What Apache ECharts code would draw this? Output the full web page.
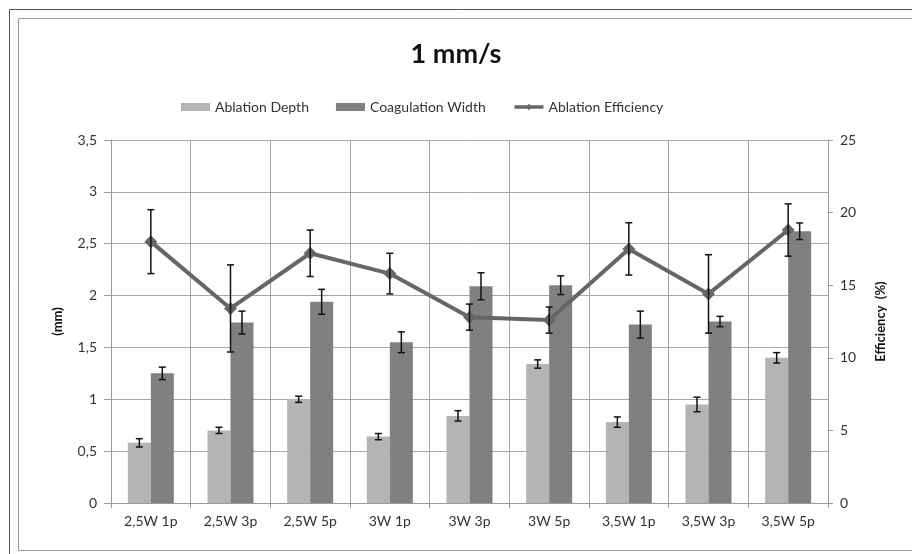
<!DOCTYPE html>
<html>
<head>
<meta charset="utf-8">
<script src="https://cdn.jsdelivr.net/npm/echarts@6/dist/echarts.min.js"></script>
<style>
  html, body { margin: 0; padding: 0; background: #fff; }
  #chart { width: 912px; height: 554px; }
</style>
</head>
<body>
<div id="chart"></div>
<script>
// categories and values
var categories = ['2,5W 1p', '2,5W 3p', '2,5W 5p', '3W 1p', '3W 3p', '3W 5p', '3,5W 1p', '3,5W 3p', '3,5W 5p'];
var depth = [0.58, 0.70, 1.00, 0.64, 0.84, 1.34, 0.78, 0.95, 1.40];
var depthErr = [0.04, 0.03, 0.03, 0.03, 0.05, 0.04, 0.05, 0.07, 0.05];
var width = [1.25, 1.74, 1.94, 1.55, 2.09, 2.10, 1.72, 1.75, 2.62];
var widthErr = [0.06, 0.11, 0.12, 0.10, 0.13, 0.09, 0.13, 0.05, 0.08];
var efficiency = [18.0, 13.4, 17.2, 15.8, 12.8, 12.6, 17.5, 14.4, 18.8];
var efficiencyErr = [2.2, 3.0, 1.6, 1.4, 0.9, 0.9, 1.8, 2.7, 1.8];

var BAR_W = 23;
var font = 'Lato, "Open Sans", sans-serif';

function errData(vals, errs) {
    return vals.map(function (v, i) { return [i, v - errs[i], v + errs[i]]; });
}

// error bar drawing, dx = offset from category centre
function errRender(dx) {
    return function (params, api) {
        var lo = api.coord([api.value(0), api.value(1)]);
        var hi = api.coord([api.value(0), api.value(2)]);
        var x = lo[0] + dx;
        var c = 3.5;
        var st = { stroke: '#111', lineWidth: 1.5 };
        return {
            type: 'group',
            children: [
                { type: 'line', shape: { x1: x, y1: hi[1], x2: x, y2: lo[1] }, style: st },
                { type: 'line', shape: { x1: x - c, y1: hi[1], x2: x + c, y2: hi[1] }, style: st },
                { type: 'line', shape: { x1: x - c, y1: lo[1], x2: x + c, y2: lo[1] }, style: st }
            ]
        };
    };
}

var option = {
    backgroundColor: '#fff',
    animation: false,
    title: {
        text: '1 mm/s',
        left: 'center',
        top: 36,
        textStyle: { fontFamily: font, fontSize: 27, fontWeight: 'bold', color: '#111' }
    },
    legend: {
        top: 95,
        left: 176,
        itemWidth: 29,
        itemHeight: 8,
        itemGap: 27,
        textStyle: { fontFamily: font, fontSize: 14, color: '#333' },
        data: [
            { name: 'Ablation Depth', icon: 'rect' },
            { name: 'Coagulation Width', icon: 'rect' },
            { name: 'Ablation Efficiency', lineStyle: { width: 3.5 } }
        ]
    },
    grid: { left: 111, right: 84, top: 140, bottom: 51 },
    xAxis: {
        type: 'category',
        data: categories,
        axisLine: { lineStyle: { color: '#9a9a9a' } },
        axisTick: { show: true, length: 5, lineStyle: { color: '#9a9a9a' } },
        axisLabel: { fontFamily: font, fontSize: 14, color: '#333', margin: 11 },
        splitLine: { show: true, lineStyle: { color: '#a6a6a6', width: 1 } }
    },
    yAxis: [
        {
            type: 'value',
            min: 0, max: 3.5, interval: 0.5,
            name: '(mm)',
            nameLocation: 'middle',
            nameGap: 47,
            nameTextStyle: { fontFamily: font, fontSize: 13, fontWeight: 'bold', color: '#111' },
            axisLine: { show: true, lineStyle: { color: '#9a9a9a' } },
            axisTick: { show: true, length: 7, lineStyle: { color: '#9a9a9a' } },
            axisLabel: {
                fontFamily: font, fontSize: 14, color: '#333', margin: 14,
                formatter: function (v) { return String(v).replace('.', ','); }
            },
            splitLine: { show: true, lineStyle: { color: '#a6a6a6', width: 1 } }
        },
        {
            type: 'value',
            min: 0, max: 25, interval: 5,
            name: 'Efficiency  (%)',
            nameLocation: 'middle',
            nameGap: 46,
            nameRotate: 90,
            nameTextStyle: { fontFamily: font, fontSize: 13, fontWeight: 'bold', color: '#111' },
            axisLine: { show: true, lineStyle: { color: '#9a9a9a' } },
            axisTick: { show: true, length: 5, lineStyle: { color: '#9a9a9a' } },
            axisLabel: { fontFamily: font, fontSize: 14, color: '#333', margin: 12 },
            splitLine: { show: false }
        }
    ],
    series: [
        {
            name: 'Ablation Depth',
            type: 'bar',
            data: depth,
            barWidth: BAR_W,
            barGap: '0%',
            itemStyle: { color: '#b4b4b4' }
        },
        {
            name: 'Coagulation Width',
            type: 'bar',
            data: width,
            barWidth: BAR_W,
            barGap: '0%',
            itemStyle: { color: '#808080' }
        },
        {
            name: 'Ablation Efficiency',
            type: 'line',
            yAxisIndex: 1,
            data: efficiency,
            symbol: 'diamond',
            symbolSize: 13,
            lineStyle: { color: '#666', width: 4 },
            itemStyle: { color: '#666' },
            z: 3
        },
        {
            type: 'custom',
            renderItem: errRender(-BAR_W / 2),
            data: errData(depth, depthErr),
            encode: { x: 0, y: [1, 2] },
            z: 4
        },
        {
            type: 'custom',
            renderItem: errRender(BAR_W / 2),
            data: errData(width, widthErr),
            encode: { x: 0, y: [1, 2] },
            z: 4
        },
        {
            type: 'custom',
            yAxisIndex: 1,
            renderItem: errRender(0),
            data: errData(efficiency, efficiencyErr),
            encode: { x: 0, y: [1, 2] },
            z: 5
        }
    ],
    graphic: [
        { type: 'rect', shape: { x: 9.5, y: 9.5, width: 1000, height: 800 }, style: { fill: 'none', stroke: '#555', lineWidth: 1 }, silent: true },
        { type: 'rect', shape: { x: 18.5, y: 18.5, width: 1000, height: 532 }, style: { fill: 'none', stroke: '#999', lineWidth: 1 }, silent: true }
    ]
};

var myChart = echarts.init(document.getElementById('chart'));
myChart.setOption(option);
</script>
</body>
</html>
